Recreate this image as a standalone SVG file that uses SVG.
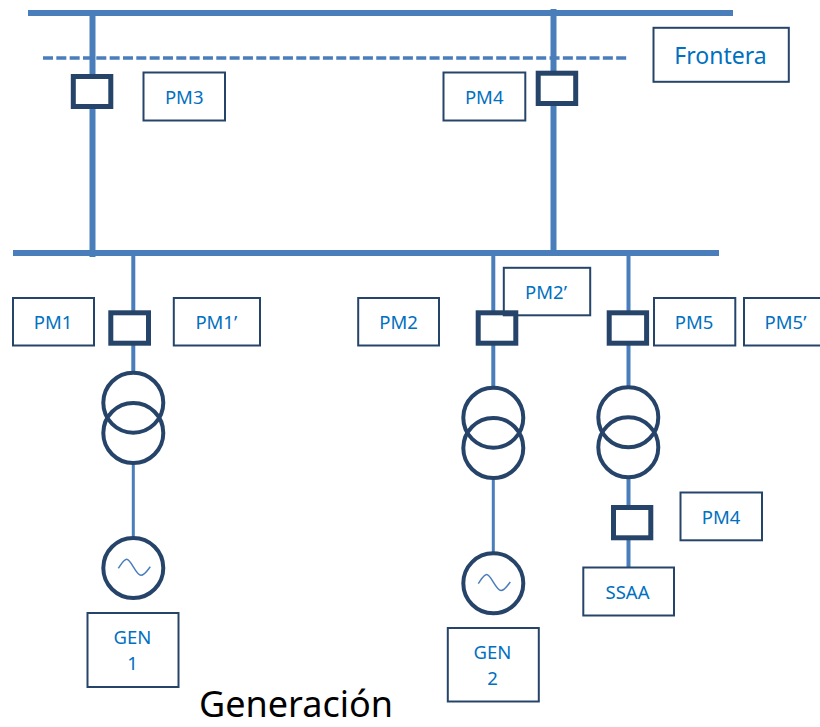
<svg xmlns="http://www.w3.org/2000/svg" width="820" height="727" viewBox="0 0 820 727">
<style>
.w{fill:none;stroke:#4a7ebb;stroke-width:4}
.b{fill:#fff;stroke:#264469;stroke-width:5}
.c{fill:none;stroke:#264469;stroke-width:4}
.l{fill:none;stroke:#264469;stroke-width:2}
.s{fill:none;stroke:#4a7ebb;stroke-width:1.5}
text{font-family:"Noto Sans","Open Sans",sans-serif;font-size:18.5px;fill:#0070c0;text-anchor:middle}
</style>
<rect width="820" height="727" fill="#fff"/>
<g id="connectors">
<path class="w" style="stroke-width:6" d="M28 13H733M13 253H719M92.5 13V257M553.5 9V253"/>
<path class="w" style="stroke-width:3.5;stroke-dasharray:10 3.33" d="M43 58H627"/>
<path class="w" d="M133.3 255V372M493.3 256V388M628.5 256V387M628.5 477V505M628.5 540V568"/>
<path class="w" style="stroke-width:3" d="M133.3 463V538M493.3 478V553"/>
</g>
<g id="breaker-pm3"><rect class="b" x="73.3" y="76.5" width="37.5" height="30"/></g>
<g id="breaker-pm4"><rect class="b" x="538.2" y="73.2" width="37.5" height="30.3"/></g>
<g id="breaker-pm1"><rect class="b" x="110.8" y="312.8" width="37.7" height="30.4"/></g>
<g id="breaker-pm2"><rect class="b" x="478.2" y="312.8" width="37.6" height="30.4"/></g>
<g id="breaker-pm5"><rect class="b" x="609.2" y="312.8" width="37.4" height="30.4"/></g>
<g id="breaker-ssaa"><rect class="b" x="613.5" y="507.5" width="37.3" height="30.3"/></g>
<g id="transformer-1"><circle class="c" cx="133.3" cy="402.7" r="30"/><circle class="c" cx="133.3" cy="433" r="30"/></g>
<g id="transformer-2"><circle class="c" cx="493.3" cy="417.7" r="30"/><circle class="c" cx="493.3" cy="448" r="30"/></g>
<g id="transformer-3"><circle class="c" cx="628.3" cy="417.3" r="30"/><circle class="c" cx="628.3" cy="447.3" r="30"/></g>
<g id="generator-1"><circle class="c" cx="133.3" cy="568" r="30"/><path class="s" d="M118.3 568.3C122 563 124 559.3 126.7 559.3C131 559.3 136 575.3 141 575.3C144.5 575.3 147 571 150.3 566.7"/></g>
<g id="generator-2"><circle class="c" cx="493.3" cy="583.3" r="30"/><path class="s" d="M478.3 583.6C482 578.3 484 574.6 486.7 574.6C491 574.6 496 590.6 501 590.6C504.5 590.6 507 586.3 510.3 582"/></g>
<g id="label-pm3"><rect class="l" x="143.5" y="72.5" width="81.5" height="48"/><text x="184.2" y="104">PM3</text></g>
<g id="label-pm4-top"><rect class="l" x="443.5" y="72.5" width="81.8" height="48"/><text x="484.2" y="104">PM4</text></g>
<g id="label-frontera"><rect class="l" x="653.5" y="27.8" width="135.3" height="54"/><text x="720.5" y="63.5" style="font-size:23px">Frontera</text></g>
<g id="label-pm1"><rect class="l" x="13" y="298" width="81" height="47.5"/><text x="53" y="329">PM1</text></g>
<g id="label-pm1p"><rect class="l" x="173.8" y="298" width="86.2" height="47.5"/><text x="216.3" y="329">PM1’</text></g>
<g id="label-pm2"><rect class="l" x="358.2" y="298" width="80.8" height="47.5"/><text x="398.5" y="329">PM2</text></g>
<g id="label-pm2p"><rect class="l" x="503.8" y="267.8" width="86.4" height="47.5"/><text x="546" y="299">PM2’</text></g>
<g id="label-pm5"><rect class="l" x="654" y="298" width="81.3" height="47.5"/><text x="694" y="329">PM5</text></g>
<g id="label-pm5p"><rect class="l" x="744" y="298" width="80" height="47.5"/><text x="785.5" y="329">PM5’</text></g>
<g id="label-pm4-low"><rect class="l" x="680.5" y="492.5" width="81.5" height="47.8"/><text x="721" y="524">PM4</text></g>
<g id="label-ssaa"><rect class="l" x="583.3" y="567.5" width="90.7" height="48"/><text x="627.5" y="599">SSAA</text></g>
<g id="label-gen1"><rect class="l" x="87.5" y="613" width="91" height="74"/><text x="132.5" y="644">GEN</text><text x="132.5" y="670">1</text></g>
<g id="label-gen2"><rect class="l" x="447.8" y="628" width="91" height="73.5"/><text x="492.5" y="659">GEN</text><text x="492.5" y="685">2</text></g>
<text x="296" y="716.5" style="font-size:36px;fill:#000">Generación</text>
</svg>
